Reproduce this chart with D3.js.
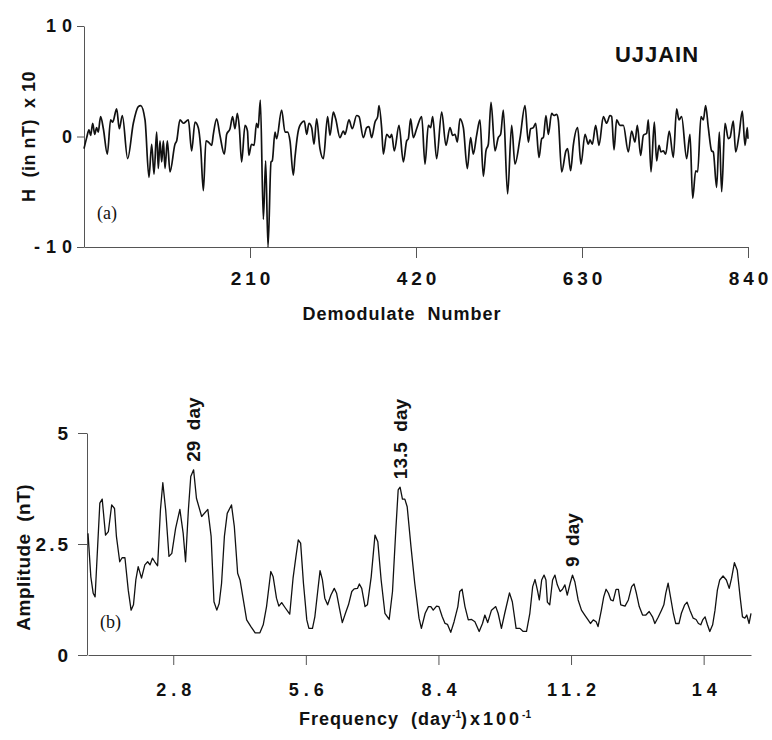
<!DOCTYPE html>
<html>
<head>
<meta charset="utf-8">
<script src="https://cdn.jsdelivr.net/npm/d3@7"></script>
<style>
  body { margin: 0; background: #fff; }
  svg { font-family: "Liberation Sans", Arial, sans-serif; }
  .axis path, .axis line { stroke: #555; stroke-width: 1; }
  .axis text { font-weight: bold; fill: #111; }
  .label { font-weight: bold; fill: #111; white-space: pre; }
  .panel-tag { font-family: "Liberation Serif", "Times New Roman", serif; font-size: 18px; fill: #111; }
  .series { fill: none; stroke: #111; stroke-linejoin: round; }
</style>
</head>
<body>
<div id="wrapper"></div>
<script>
// Data: panel (a)
const demodNumbers = [
  0, 3.4, 6.3, 8.4, 11, 13.5, 16, 18, 21, 24.5, 29.5, 33.7, 36.3, 41.3, 44.7, 48.5, 55.2, 62.4, 68.7, 71.7,
  77.2, 82.2, 85.6, 88.6, 91.9, 94, 96.1, 98.3, 100.4, 102.5, 105.4, 108.8, 115.1, 117.2, 121.4, 125.7, 132, 136.2, 140.4, 144.6,
  147.6, 151, 154.3, 157.3, 161.5, 163.6, 167.8, 172, 177.5, 180.5, 184.7, 188, 191, 194, 196.5, 199.4, 203.7, 206.8, 208.5, 211.9,
  215.2, 218.2, 220.3, 223.1, 226.9, 229.8, 232.8, 236.6, 238.2, 241.6, 243.7, 250, 254.3, 257.6, 260.6, 264.8, 266.9, 270.3, 273.2, 278.7,
  281.7, 284.6, 288, 291, 294.3, 298.5, 302.8, 308.2, 311.2, 315.4, 318.4, 323.8, 328.1, 330.2, 335.2, 339.4, 344.9, 347.9, 353.4, 357.6,
  360.5, 363.9, 368.1, 371.5, 373.2, 376.5, 378.7, 382.9, 387.1, 389.2, 392.6, 398.5, 404, 408.2, 410.3, 413.2, 416.6, 420.8, 427.2, 431.4,
  435.6, 438.5, 441.1, 446.1, 452.5, 457.9, 463, 466.4, 469.3, 472.3, 475.6, 479.9, 484.9, 489.1, 492.5, 496.7, 500.9, 505.2, 508.5, 511.5,
  514.9, 519.9, 524.1, 527.1, 530.5, 535.9, 541, 545.2, 551.5, 557.9, 562.1, 565, 568.4, 571.4, 575.6, 579, 581.1, 584.4, 587.4, 591.6,
  594.6, 597.9, 600, 604.3, 609.7, 611.8, 615.6, 619, 624.5, 628.7, 633.8, 638, 640.1, 643, 647.3, 651.5, 657, 661.2, 665.4, 667.5,
  670.5, 673.8, 678, 682.3, 688.6, 692.8, 697, 700, 704.2, 707.6, 711.8, 713.9, 717.3, 721.5, 724.4, 727.4, 729.9, 732.9, 735.8, 740.4,
  745.5, 749.7, 752.7, 756, 762.4, 766.6, 770, 773.8, 776.3, 780.5, 783.5, 786.4, 789.8, 794, 796.1, 800.3, 803.7, 806.7, 810.9, 815.1,
  817.2, 821.4, 824.4, 828.6, 832.8, 836.2, 839.1, 840
]
const hValues = [
  -1.1, -0.1, 0.6, 0.1, 1.2, 0.2, 0.8, 0.4, 1.8, 0.7, -1.6, 1.5, 1.3, 2.5, 0.7, 1.9, -2.0, 1.2, 2.7, 2.8,
  1.5, -3.7, -0.7, -3.4, 0.4, -2.9, -0.4, -2.3, -0.4, -2.9, -0.4, -3.2, -0.7, -0.4, 1.5, 1.2, 1.5, -1.3, 1.3, 0.8,
  -1.0, -4.9, -0.4, -0.5, -0.8, 0.2, 1.6, 0.1, -1.6, 0.2, 0.7, 1.8, 0.7, 2.1, 0.8, -2.3, 1.0, 0.5, -1.7, -0.7,
  -0.8, 1.2, 0.8, 3.3, -7.5, -2.2, -10, -2.3, -2.2, 0.4, -0.2, 2.4, 0.4, 0.4, -0.4, -3.5, -1.9, 0.2, 1.0, 1.4,
  0.2, 1.2, 0.8, -0.7, 1.6, -1.1, -2.0, 1.8, 0.1, 2.2, 1.6, -0.1, 0.5, 0.2, 1.5, 0.7, 1.9, 1.8, -0.1, 0.8,
  0.9, -0.1, 1.3, 1.8, 2.8, 0.8, -1.6, 0.2, -0.1, 0.2, -1.3, 1.0, -2.3, -0.4, -0.2, 1.6, -0.1, 0.7, 1.8, -2.5,
  1.0, 0.8, 1.8, -2.0, 2.2, -0.8, 0.8, 0.1, 0.2, -0.5, 1.6, 0.8, -2.9, -0.1, -1.6, 0.1, 1.5, -3.6, -1.3, -0.7,
  3.1, -1.3, -0.1, 0.2, 2.4, -5.2, 1.0, -2.5, -0.2, 2.8, -0.5, 0.7, 0.8, 1.2, -1.9, -0.2, -0.1, 1.9, 0.2, 2.1,
  1.9, 2.0, 1.5, -3.2, -1.3, -1.1, -3.1, -0.8, 0.8, -2.5, 0.2, -0.7, -0.3, -0.7, 1.0, -0.8, 1.8, 1.2, 1.9, 1.8,
  -1.2, 1.5, 1.0, 1.0, -1.4, 0.5, -0.5, 1.0, -1.7, 0.1, 0.3, 1.5, -3.2, 1.3, -2.2, -0.8, -1.4, -1.3, -1.6, 0.5,
  -1.9, 2.5, 1.5, 1.8, -2.0, 0.2, -5.6, -3.1, -3.2, 1.8, 1.5, 2.8, 0.8, -1.3, -1.4, -4.6, 0.4, -5.0, 1.2, -0.2,
  -0.1, 1.4, -1.4, 0.1, 2.3, -0.8, 0.8, -0.2
]
const demodTicks = [210, 420, 630, 840]
const hTicks = [-10, 0, 10]

// Data: panel (b)
const frequencies = [
  1.0, 1.06, 1.11, 1.15, 1.20, 1.25, 1.30, 1.37, 1.43, 1.50, 1.56, 1.60, 1.67, 1.72, 1.78, 1.85, 1.91, 1.96, 2.01, 2.06,
  2.13, 2.20, 2.26, 2.31, 2.36, 2.41, 2.47, 2.53, 2.58, 2.64, 2.71, 2.77, 2.85, 2.94, 3.01, 3.06, 3.12, 3.17, 3.23, 3.29,
  3.40, 3.53, 3.60, 3.66, 3.72, 3.77, 3.82, 3.88, 3.94, 4.03, 4.09, 4.16, 4.21, 4.28, 4.35, 4.44, 4.53, 4.63, 4.70, 4.77,
  4.86, 4.91, 4.98, 5.03, 5.09, 5.16, 5.26, 5.33, 5.39, 5.44, 5.49, 5.55, 5.62, 5.665, 5.74, 5.79, 5.85, 5.90, 5.95, 6.00,
  6.06, 6.13, 6.20, 6.25, 6.31, 6.37, 6.44, 6.50, 6.57, 6.62, 6.69, 6.73, 6.78, 6.85, 6.90, 6.98, 7.06, 7.12, 7.19, 7.27,
  7.36, 7.43, 7.50, 7.55, 7.59, 7.64, 7.69, 7.74, 7.82, 7.90, 7.99, 8.04, 8.12, 8.19, 8.24, 8.29, 8.36, 8.41, 8.48, 8.54,
  8.59, 8.66, 8.73, 8.81, 8.85, 8.90, 8.96, 9.03, 9.10, 9.17, 9.26, 9.33, 9.38, 9.44, 9.52, 9.61, 9.66, 9.73, 9.80, 9.90,
  9.96, 10.04, 10.12, 10.19, 10.26, 10.33, 10.39, 10.44, 10.49, 10.53, 10.58, 10.63, 10.67, 10.70, 10.75, 10.81, 10.86, 10.91, 10.97, 11.02,
  11.07, 11.12, 11.18, 11.23, 11.28, 11.35, 11.42, 11.49, 11.56, 11.61, 11.67, 11.73, 11.77, 11.84, 11.89, 11.94, 11.99, 12.04, 12.09, 12.15,
  12.20, 12.25, 12.34, 12.41, 12.48, 12.53, 12.58, 12.64, 12.71, 12.78, 12.85, 12.92, 12.97, 13.04, 13.11, 13.16, 13.20, 13.25, 13.30, 13.36,
  13.41, 13.48, 13.53, 13.60, 13.65, 13.71, 13.78, 13.84, 13.89, 13.94, 13.98, 14.03, 14.08, 14.13, 14.19, 14.24, 14.29, 14.34, 14.41, 14.48,
  14.54, 14.59, 14.65, 14.71, 14.77, 14.82, 14.87, 14.91, 14.96, 15.0
]
const amplitudes = [
  2.74, 1.76, 1.39, 1.31, 2.37, 3.42, 3.51, 2.70, 2.78, 3.38, 3.30, 2.67, 2.10, 2.19, 2.19, 1.46, 1.01, 1.13, 1.69, 1.99,
  1.73, 2.03, 2.10, 2.03, 2.18, 2.10, 2.01, 3.27, 3.88, 3.27, 2.22, 2.29, 2.85, 3.28, 2.74, 2.10, 3.27, 4.02, 4.17, 3.53,
  3.12, 3.28, 2.67, 1.20, 1.01, 1.16, 1.61, 2.67, 3.19, 3.38, 2.89, 1.84, 1.69, 1.24, 0.79, 0.64, 0.50, 0.50, 0.68, 1.09,
  1.88, 1.76, 1.28, 1.10, 1.18, 1.07, 0.92, 1.73, 2.21, 2.59, 2.52, 1.61, 0.79, 0.60, 0.60, 0.86, 1.43, 1.90, 1.69, 1.28,
  1.13, 1.35, 1.50, 1.39, 1.05, 0.73, 0.95, 1.13, 1.43, 1.49, 1.50, 1.60, 1.50, 1.09, 1.13, 1.76, 2.70, 2.55, 1.69, 0.94,
  0.80, 1.43, 2.82, 3.72, 3.78, 3.51, 3.51, 3.34, 2.44, 1.61, 0.83, 0.60, 0.94, 1.09, 1.09, 1.01, 1.10, 1.09, 0.86, 0.71,
  0.69, 0.51, 0.75, 1.09, 1.43, 1.48, 1.09, 0.79, 0.80, 0.75, 0.53, 0.71, 0.90, 0.73, 1.01, 1.09, 0.94, 0.60, 0.94, 1.40,
  1.20, 0.60, 0.60, 0.53, 0.53, 0.94, 1.54, 1.70, 1.46, 1.24, 1.69, 1.80, 1.69, 1.19, 1.13, 1.69, 1.80, 1.58, 1.43, 1.48,
  1.58, 1.35, 1.61, 1.80, 1.65, 1.24, 1.01, 0.90, 0.79, 0.71, 0.79, 0.75, 0.64, 1.01, 1.31, 1.48, 1.39, 1.24, 1.22, 1.48,
  1.48, 1.13, 1.10, 1.24, 1.54, 1.60, 1.39, 1.09, 0.90, 0.90, 0.98, 0.86, 0.71, 0.85, 1.01, 1.13, 1.39, 1.62, 1.31, 0.94,
  0.71, 0.71, 0.94, 1.13, 1.19, 1.01, 0.83, 0.80, 0.71, 0.68, 0.79, 0.86, 0.68, 0.53, 0.68, 1.01, 1.46, 1.69, 1.78, 1.69,
  1.50, 1.73, 2.08, 1.91, 1.31, 0.86, 0.83, 0.90, 0.71, 0.94
]
const freqTicks = [2.8, 5.6, 8.4, 11.2, 14]
const ampTicks = [0, 2.5, 5]
const peakNames = ["29  day", "13.5  day", "9  day"]
const peakFreqs = [3.23, 7.59, 11.23]
const peakAmps = [4.17, 3.78, 1.80]

// dimensions
const dimensions = { width: 772, height: 740 }

const wrapper = d3.select("#wrapper")
  .append("svg")
    .attr("width", dimensions.width)
    .attr("height", dimensions.height)

// ---------- panel (a) ----------
const topX = d3.scaleLinear().domain([0, 840]).range([84, 748])
const topY = d3.scaleLinear().domain([-10, 10]).range([247, 26])

const topXAxis = wrapper.append("g")
  .attr("class", "axis")
  .attr("transform", `translate(0, ${topY(-10)})`)
  .call(d3.axisBottom(topX).tickValues(demodTicks).tickSize(11).tickSizeOuter(0).tickPadding(14).tickFormat(d => String(d)))
topXAxis.selectAll("text")
  .style("font-size", "19px")
  .attr("letter-spacing", 4)
  .attr("dx", 2)

const topYAxis = wrapper.append("g")
  .attr("class", "axis")
  .attr("transform", `translate(${topX(0)}, 0)`)
  .call(d3.axisLeft(topY).tickValues(hTicks).tickSize(7).tickSizeOuter(0).tickPadding(5).tickFormat(d => String(d)))
topYAxis.selectAll("text")
  .style("font-size", "18px")
  .attr("letter-spacing", 6)
  .attr("dx", 6)

const topLine = d3.line()
  .x((d, i) => topX(demodNumbers[i]))
  .y(d => topY(d))
  .curve(d3.curveMonotoneX)

wrapper.append("path")
  .attr("class", "series")
  .attr("stroke-width", 1.7)
  .attr("d", topLine(hValues))

wrapper.append("text")
  .attr("class", "label")
  .attr("x", 657)
  .attr("y", 62)
  .attr("text-anchor", "middle")
  .style("font-size", "22px")
  .attr("letter-spacing", 1)
  .text("UJJAIN")

wrapper.append("text")
  .attr("class", "panel-tag")
  .attr("x", 97)
  .attr("y", 219)
  .text("(a)")

wrapper.append("text")
  .attr("class", "label")
  .attr("x", 402)
  .attr("y", 320)
  .attr("text-anchor", "middle")
  .style("font-size", "18px")
  .attr("letter-spacing", 1)
  .text("Demodulate  Number")

wrapper.append("text")
  .attr("class", "label")
  .attr("transform", `translate(35, ${topY(0)}) rotate(-90)`)
  .attr("text-anchor", "middle")
  .style("font-size", "18px")
  .attr("letter-spacing", 0.5)
  .text("H  (in nT)  x 10")

// ---------- panel (b) ----------
const botX = d3.scaleLinear().domain([1, 15]).range([88, 751])
const botY = d3.scaleLinear().domain([0, 5]).range([655, 433])

const botXAxis = wrapper.append("g")
  .attr("class", "axis")
  .attr("transform", `translate(0, ${botY(0)})`)
  .call(d3.axisBottom(botX).tickValues(freqTicks).tickSize(10).tickSizeOuter(0).tickPadding(18).tickFormat(d => String(d)))
botXAxis.selectAll("text")
  .style("font-size", "18px")
  .attr("letter-spacing", 5)
  .attr("dx", 2.5)

const botYAxis = wrapper.append("g")
  .attr("class", "axis")
  .attr("transform", `translate(${botX(1) - 1}, 0)`)
  .call(d3.axisLeft(botY).tickValues(ampTicks).tickSize(9).tickSizeOuter(0).tickPadding(10).tickFormat(d => String(d)))
botYAxis.selectAll("text")
  .style("font-size", "19px")
  .attr("letter-spacing", 3)
  .attr("dx", 3)

const botLine = d3.line()
  .x((d, i) => botX(frequencies[i]))
  .y(d => botY(d))

wrapper.append("path")
  .attr("class", "series")
  .attr("stroke-width", 1.3)
  .attr("d", botLine(amplitudes))

wrapper.selectAll(".peak-label")
  .data(peakNames)
  .enter().append("text")
    .attr("class", "label peak-label")
    .attr("transform", (d, i) => `translate(${botX(peakFreqs[i])}, ${botY(peakAmps[i]) - 8}) rotate(-90)`)
    .attr("dy", "0.36em")
    .style("font-size", "19px")
    .text(d => d)

wrapper.append("text")
  .attr("class", "panel-tag")
  .attr("x", 100)
  .attr("y", 628)
  .text("(b)")

wrapper.append("text")
  .attr("class", "label")
  .attr("transform", `translate(30, ${botY(2.2)}) rotate(-90)`)
  .attr("text-anchor", "middle")
  .style("font-size", "19px")
  .attr("letter-spacing", 0.5)
  .text("Amplitude  (nT)")

const freqLabel = wrapper.append("text")
  .attr("class", "label")
  .attr("x", 415)
  .attr("y", 725)
  .attr("text-anchor", "middle")
  .style("font-size", "18px")
freqLabel.append("tspan").attr("letter-spacing", 1).text("Frequency  (day")
freqLabel.append("tspan").attr("dy", -7).style("font-size", "10px").text("-1")
freqLabel.append("tspan").attr("dy", 7).attr("letter-spacing", 3).text(")x100")
freqLabel.append("tspan").attr("dy", -7).style("font-size", "10px").text("-1")
</script>
</body>
</html>
